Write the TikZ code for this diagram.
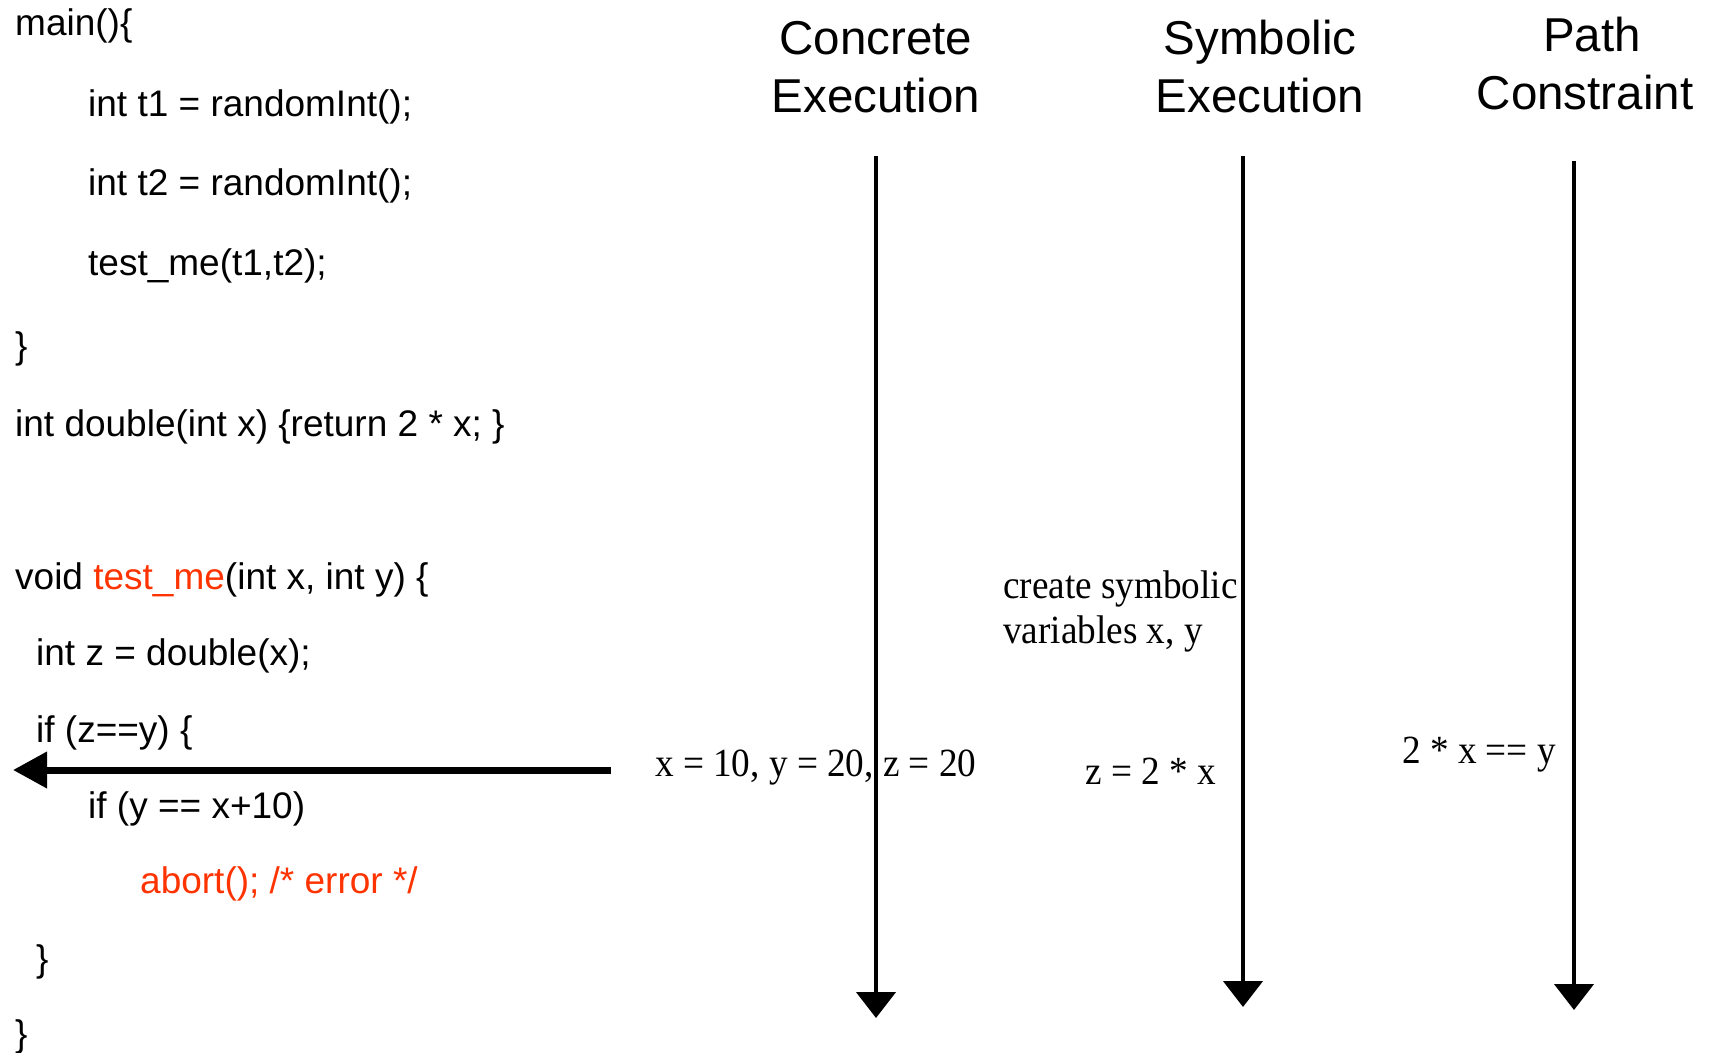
\documentclass[tikz,border=0pt]{standalone}
\usepackage{fontspec}
\setmainfont{Liberation Serif}
\newfontfamily\arialfont{Liberation Sans}
\newfontfamily\timesnarrow[FakeStretch=0.93]{Liberation Serif}
\usetikzlibrary{arrows.meta}
\definecolor{codered}{RGB}{255,51,0}
\begin{document}
\begin{tikzpicture}[x=1pt,y=-1pt,
  code/.style={anchor=base west,inner sep=0pt,font=\arialfont\fontsize{37}{44}\selectfont},
  colhead/.style={anchor=base,inner sep=0pt,font=\arialfont\fontsize{47.5}{58}\selectfont},
  val/.style={anchor=base west,inner sep=0pt,font=\timesnarrow\fontsize{40}{44}\selectfont},
  timeline/.style={line width=4.5pt,-{Triangle[length=26pt,width=39pt]}},
  pointer/.style={line width=7pt,-{Triangle[length=34pt,width=35pt]}},
]
\useasboundingbox (0,0) rectangle (1710,1052);

% code listing
\node[code] (l1)  at (15,35.5)  {main()\{};
\node[code] (l2)  at (88,116)   {int t1 = randomInt();};
\node[code] (l3)  at (88,195.5) {int t2 = randomInt();};
\node[code] (l4)  at (88,275.5) {test\_me(t1,t2);};
\node[code] (l5)  at (15,358)   {\}};
\node[code] (l6)  at (15,436.5) {int double(int x) \{return 2 * x; \}};
\node[code] (l7)  at (15,589.5) {void \textcolor{codered}{test\_me}(int x, int y) \{};
\node[code] (l8)  at (36,665.5) {int z = double(x);};
\node[code] (l9)  at (36,742)   {if (z==y) \{};
\node[code] (l10) at (88,818.5) {if (y == x+10)};
\node[code,text=codered] (l11) at (140,893.5) {abort(); /* error */};
\node[code] (l12) at (36,971)   {\}};
\node[code] (l13) at (15,1046)  {\}};

% column headings
\node[colhead] (h1a) at (876,54)   {Concrete};
\node[colhead] (h1b) at (876,112)  {Execution};
\node[colhead] (h2a) at (1260,54)  {Symbolic};
\node[colhead] (h2b) at (1260,112) {Execution};
\node[colhead] (h3a) at (1592,51)  {Path};
\node[colhead] (h3b) at (1585,109) {Constraint};

% timelines
\coordinate (c1s) at (876,156);
\coordinate (c1e) at (876,1018);
\coordinate (c2s) at (1243,156);
\coordinate (c2e) at (1243,1007);
\coordinate (c3s) at (1574,161);
\coordinate (c3e) at (1574,1010);
\draw[timeline] (c1s) -- (c1e);
\draw[timeline] (c2s) -- (c2e);
\draw[timeline] (c3s) -- (c3e);

% current-line pointer
\coordinate (ps) at (611,770);
\coordinate (pe) at (13,770);
\draw[pointer] (ps) -- (pe);

% values
\node[val] (v1)  at (655,776)  {x = 10, y = 20, z = 20};
\node[val] (v2a) at (1003,598) {create symbolic};
\node[val] (v2b) at (1003,643) {variables x, y};
\node[val] (v3)  at (1085,784) {z = 2 * x};
\node[val] (v4)  at (1402,763) {2 * x == y};
\end{tikzpicture}
\end{document}
